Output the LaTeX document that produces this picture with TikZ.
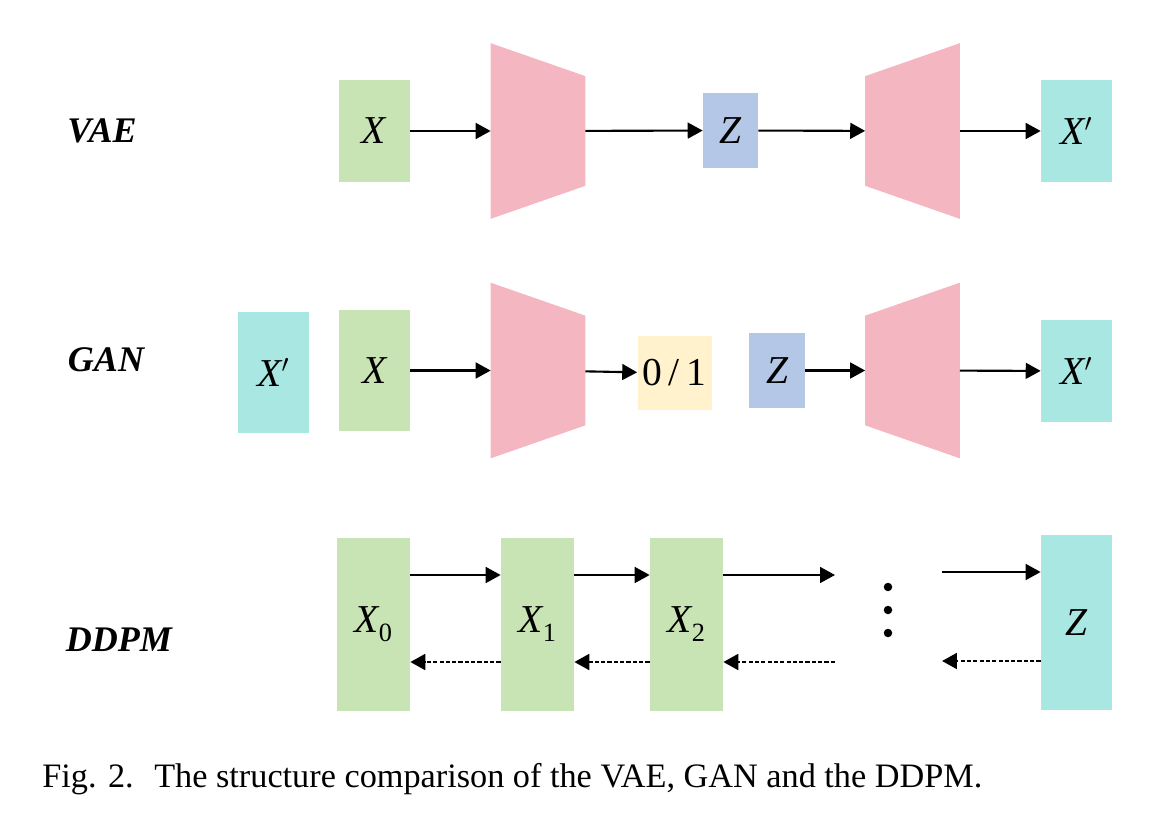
\documentclass[tikz,border=0pt]{standalone}
\usepackage{fontspec}
\setmainfont{Liberation Serif}
\usetikzlibrary{arrows.meta}

\definecolor{datagreen}{HTML}{C9E4B4}
\definecolor{reconcyan}{HTML}{A9E8E2}
\definecolor{latentblue}{HTML}{B4C7E7}
\definecolor{judgeyellow}{HTML}{FFF2CC}
\definecolor{coderpink}{HTML}{F4B6C1}

\newcommand{\sub}[1]{\raisebox{-0.5ex}{\fontsize{15}{17}\selectfont\upshape #1}}

\begin{document}
\begin{tikzpicture}[x=0.02cm, y=-0.02cm]
\tikzset{block/.style =
        {
            rectangle,
            inner sep=0cm,
            minimum width=1.42cm,
            text=black,
            font=\fontsize{22.5}{26}\selectfont\itshape
        }
}

\tikzset{data/.style = { block, fill=datagreen } }

\tikzset{recon/.style = { block, fill=reconcyan } }

\tikzset{latent/.style =
        {
            block,
            fill=latentblue,
            minimum width=1.1cm,
            minimum height=1.5cm
        }
}

\tikzset{judge/.style =
        {
            block,
            fill=judgeyellow,
            minimum width=1.48cm,
            minimum height=1.48cm,
            font=\fontsize{22.5}{26}\selectfont\upshape
        }
}

\tikzset{coder/.style =
        {
            rectangle,
            inner sep=0cm,
            minimum width=1.88cm,
            minimum height=3.5cm
        }
}

\tikzset{coder fill/.style = { fill=coderpink } }

\tikzset{model/.style =
        {
            inner sep=0cm,
            font=\fontsize{20.5}{24}\selectfont\bfseries\itshape
        }
}

\tikzset{flow/.style =
        {
            line width=1.2pt,
            -{Triangle[length=8.5pt, width=9pt]}
        }
}

\tikzset{back/.style =
        {
            flow,
            line width=1.4pt,
            dash pattern=on 2.4pt off 1.2pt
        }
}

\useasboundingbox (0,0) rectangle (1155,837);

% VAE
\node[model] (vae-lab) at (102,131) {VAE};
\node[data, minimum height=2.04cm] (vae-x) at (374,131) {X};
\node[coder] (vae-enc) at (538,131) {};
\node[latent] (vae-z) at (730.5,130.5) {Z};
\node[coder] (vae-dec) at (912.5,131) {};
\node[recon, minimum height=2.04cm] (vae-xr) at (1076.5,131) {X$'$};

% GAN
\node[model] (gan-lab) at (106,360) {GAN};
\node[recon, minimum height=2.42cm] (gan-xr) at (273.5,372.5) {X$'$};
\node[data, minimum height=2.42cm] (gan-x) at (374.5,370.5) {X};
\node[coder] (gan-dis) at (538,370.5) {};
\node[judge] (gan-out) at (674.5,373) {0\,/\,1};
\node[latent, minimum width=1.12cm] (gan-z) at (777,370.5) {Z};
\node[coder] (gan-gen) at (912.5,370.5) {};
\node[recon, minimum height=2.04cm] (gan-xg) at (1076.5,371) {X$'$};

% DDPM
\node[model] (ddpm-lab) at (119,640) {DDPM};
\node[data, minimum width=1.46cm, minimum height=3.46cm] (ddpm-x0) at (373.5,624.5) {X\sub{0}};
\node[data, minimum width=1.46cm, minimum height=3.46cm] (ddpm-x1) at (537.5,624.5) {X\sub{1}};
\node[data, minimum width=1.46cm, minimum height=3.46cm] (ddpm-x2) at (686.5,624.5) {X\sub{2}};
\node[recon, minimum height=3.5cm] (ddpm-z) at (1076.5,622.5) {Z};

\foreach \dy in {587, 610, 633}
    \fill (888,\dy) circle [radius=0.085cm];

\coordinate (ddpm-fwd) at (835,575);
\coordinate (ddpm-bwd) at (835,662);
\coordinate (ddpm-fz) at (942,572);
\coordinate (ddpm-bz) at (942,661);

% trapezoids
\foreach \n in {vae-enc, gan-dis}
    \fill[coder fill] (\n.south west) -- (\n.north west) -- ([yshift=-0.66cm]\n.north east) -- ([yshift=0.66cm]\n.south east) -- cycle;
\foreach \n in {vae-dec, gan-gen}
    \fill[coder fill] ([yshift=0.66cm]\n.south west) -- ([yshift=-0.66cm]\n.north west) -- (\n.north east) -- (\n.south east) -- cycle;

\foreach \start / \finish in
    {vae-x/vae-enc,
        vae-enc/vae-z,
        vae-z/vae-dec,
        vae-dec/vae-xr,
        gan-x/gan-dis,
        gan-dis/gan-out,
        gan-z/gan-gen,
        gan-gen/gan-xg}
    {
        \draw [flow] (\start) -- (\finish);
    }

\draw [flow] (ddpm-x0.east |- ddpm-fwd) -- (ddpm-x1.west |- ddpm-fwd);
\draw [flow] (ddpm-x1.east |- ddpm-fwd) -- (ddpm-x2.west |- ddpm-fwd);
\draw [flow] (ddpm-x2.east |- ddpm-fwd) -- (ddpm-fwd);
\draw [flow] (ddpm-fz) -- (ddpm-z.west |- ddpm-fz);

\draw [back] (ddpm-x1.west |- ddpm-bwd) -- (ddpm-x0.east |- ddpm-bwd);
\draw [back] (ddpm-x2.west |- ddpm-bwd) -- (ddpm-x1.east |- ddpm-bwd);
\draw [back] (ddpm-bwd) -- (ddpm-x2.east |- ddpm-bwd);
\draw [back] (ddpm-z.west |- ddpm-bz) -- (ddpm-bz);

\node[anchor=base west, inner sep=0cm, font=\fontsize{19.5}{23}\selectfont] (caption) at (42,787)
    {Fig. 2.\hspace{0.6em}The structure comparison of the VAE, GAN and the DDPM.};
\end{tikzpicture}
\end{document}
